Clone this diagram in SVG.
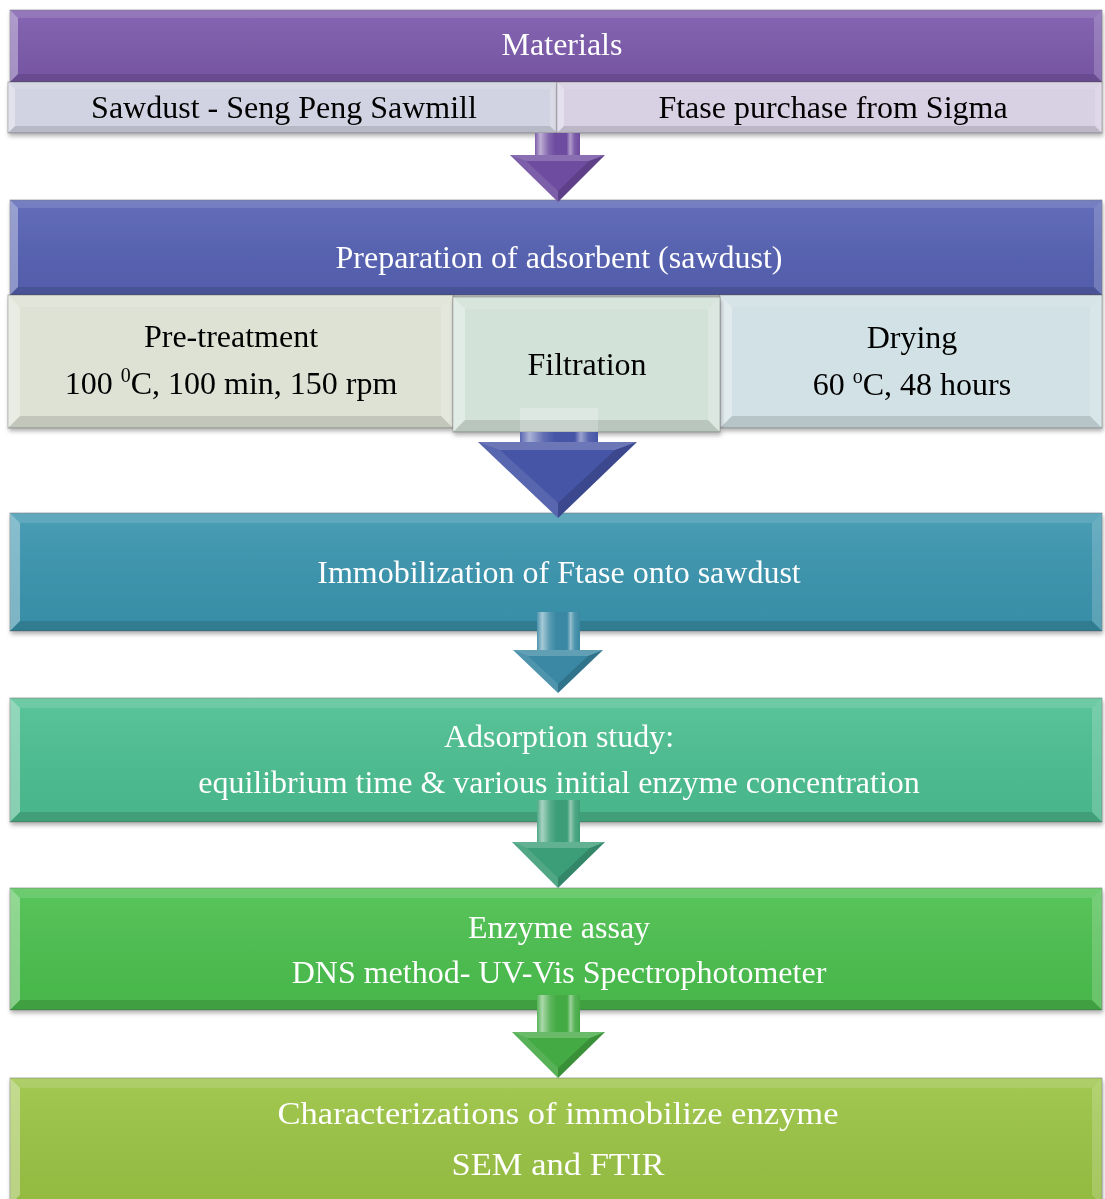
<svg xmlns="http://www.w3.org/2000/svg" width="1105" height="1199" viewBox="0 0 1105 1199">
<style>
.t{font-family:"Liberation Serif","Times New Roman",serif;font-size:32px;text-anchor:middle}
.w{fill:#ffffff}
.k{fill:#000000}
.box{stroke:#555;stroke-opacity:.45;stroke-width:1}
.bt{fill:#fff;fill-opacity:.12}
.bl{fill:#fff;fill-opacity:.35}
.bb{fill:#000;fill-opacity:.12}
.br{fill:#fff;fill-opacity:.18}
.ft{fill:#fff;fill-opacity:.2}
.fl{fill:#fff;fill-opacity:.1}
.fr{fill:#000;fill-opacity:.15}
.node{filter:url(#sh)}
</style>
<defs>
<filter id="sh" x="-5%" y="-10%" width="110%" height="130%">
<feDropShadow dx="1" dy="3" stdDeviation="2" flood-color="#000" flood-opacity=".3"/>
</filter>
<linearGradient id="gloss" x1="0" y1="0" x2="0" y2="1">
<stop offset="0" stop-color="#fff" stop-opacity=".08"/>
<stop offset="1" stop-color="#000" stop-opacity=".05"/>
</linearGradient>
<linearGradient id="shine" x1="0" y1="0" x2="1" y2="0">
<stop offset="0" stop-color="#fff" stop-opacity=".1"/>
<stop offset=".12" stop-color="#fff" stop-opacity=".55"/>
<stop offset=".3" stop-color="#fff" stop-opacity=".15"/>
<stop offset=".45" stop-color="#fff" stop-opacity="0"/>
<stop offset=".7" stop-color="#fff" stop-opacity="0"/>
<stop offset=".78" stop-color="#fff" stop-opacity=".45"/>
<stop offset=".88" stop-color="#fff" stop-opacity=".1"/>
<stop offset="1" stop-color="#fff" stop-opacity="0"/>
</linearGradient>
</defs>
<rect width="1105" height="1199" fill="#fff"/>

<g id="materials" class="node">
<rect class="box" x="10" y="10" width="1092" height="72" fill="#7C5AAC"/>
<rect x="10" y="10" width="1092" height="72" fill="url(#gloss)"/>
<polygon class="bt" points="10,10 1102,10 1094,18 18,18"/>
<polygon class="bl" points="10,10 18,18 18,74 10,82"/>
<polygon class="bb" points="10,82 18,74 1094,74 1102,82"/>
<polygon class="br" points="1102,10 1094,18 1094,74 1102,82"/>
<text class="t w" x="562" y="55">Materials</text>
</g>

<g id="sawdust-source" class="node">
<rect class="box" x="8" y="82" width="549" height="51" fill="#D2D3E2"/>
<polygon class="bt" points="8,82 557,82 550,89 15,89"/>
<polygon class="bl" points="8,82 15,89 15,126 8,133"/>
<polygon class="bb" points="8,133 15,126 550,126 557,133"/>
<polygon class="br" points="557,82 550,89 550,126 557,133"/>
<text class="t k" x="284" y="118">Sawdust - Seng Peng Sawmill</text>
</g>

<g id="ftase-source" class="node">
<rect class="box" x="557" y="82" width="545" height="51" fill="#D8D0E3"/>
<polygon class="bt" points="557,82 1102,82 1095,89 564,89"/>
<polygon class="bl" points="557,82 564,89 564,126 557,133"/>
<polygon class="bb" points="557,133 564,126 1095,126 1102,133"/>
<polygon class="br" points="1102,82 1095,89 1095,126 1102,133"/>
<text class="t k" x="833" y="118">Ftase purchase from Sigma</text>
</g>

<g id="preparation" class="node">
<rect class="box" x="10" y="200" width="1092" height="95" fill="#5662B4"/>
<rect x="10" y="200" width="1092" height="95" fill="url(#gloss)"/>
<polygon class="bt" points="10,200 1102,200 1094,208 18,208"/>
<polygon class="bl" points="10,200 18,208 18,287 10,295"/>
<polygon class="bb" points="10,295 18,287 1094,287 1102,295"/>
<polygon class="br" points="1102,200 1094,208 1094,287 1102,295"/>
<text class="t w" x="559" y="268">Preparation of adsorbent (sawdust)</text>
</g>

<g id="pretreatment" class="node">
<rect class="box" x="8" y="295" width="445" height="133" fill="#DDE2D5"/>
<polygon class="bt" points="8,295 453,295 441,307 20,307"/>
<polygon class="bl" points="8,295 20,307 20,416 8,428"/>
<polygon class="bb" points="8,428 20,416 441,416 453,428"/>
<polygon class="br" points="453,295 441,307 441,416 453,428"/>
<text class="t k" x="231" y="347">Pre-treatment</text>
<text class="t k" x="231" y="394">100 <tspan font-size="20" dy="-12">0</tspan><tspan dy="12">C, 100 min, 150 rpm</tspan></text>
</g>

<g id="drying" class="node">
<rect class="box" x="720" y="295" width="382" height="133" fill="#D1E1E5"/>
<polygon class="bt" points="720,295 1102,295 1090,307 732,307"/>
<polygon class="bl" points="720,295 732,307 732,416 720,428"/>
<polygon class="bb" points="720,428 732,416 1090,416 1102,428"/>
<polygon class="br" points="1102,295 1090,307 1090,416 1102,428"/>
<text class="t k" x="912" y="348">Drying</text>
<text class="t k" x="912" y="395">60 <tspan font-size="20" dy="-12">o</tspan><tspan dy="12">C, 48 hours</tspan></text>
</g>

<g id="filtration" class="node">
<rect class="box" x="453" y="297" width="267" height="135" fill="#D3E2D9"/>
<polygon class="bt" points="453,297 720,297 708,309 465,309"/>
<polygon class="bl" points="453,297 465,309 465,420 453,432"/>
<polygon class="bb" points="453,432 465,420 708,420 720,432"/>
<polygon class="br" points="720,297 708,309 708,420 720,432"/>
<text class="t k" x="587" y="375">Filtration</text>
</g>

<g id="immobilization" class="node">
<rect class="box" x="10" y="513" width="1092" height="118" fill="#3A95AF"/>
<rect x="10" y="513" width="1092" height="118" fill="url(#gloss)"/>
<polygon class="bt" points="10,513 1102,513 1092,523 20,523"/>
<polygon class="bl" points="10,513 20,523 20,621 10,631"/>
<polygon class="bb" points="10,631 20,621 1092,621 1102,631"/>
<polygon class="br" points="1102,513 1092,523 1092,621 1102,631"/>
<text class="t w" x="559" y="583">Immobilization of Ftase onto sawdust</text>
</g>

<g id="adsorption" class="node">
<rect class="box" x="10" y="698" width="1092" height="124" fill="#4CBF91"/>
<rect x="10" y="698" width="1092" height="124" fill="url(#gloss)"/>
<polygon class="bt" points="10,698 1102,698 1092,708 20,708"/>
<polygon class="bl" points="10,698 20,708 20,812 10,822"/>
<polygon class="bb" points="10,822 20,812 1092,812 1102,822"/>
<polygon class="br" points="1102,698 1092,708 1092,812 1102,822"/>
<text class="t w" x="559" y="747">Adsorption study:</text>
<text class="t w" x="559" y="793">equilibrium time &amp; various initial enzyme concentration</text>
</g>

<g id="enzyme-assay" class="node">
<rect class="box" x="10" y="888" width="1092" height="122" fill="#4BC04E"/>
<rect x="10" y="888" width="1092" height="122" fill="url(#gloss)"/>
<polygon class="bt" points="10,888 1102,888 1092,898 20,898"/>
<polygon class="bl" points="10,888 20,898 20,1000 10,1010"/>
<polygon class="bb" points="10,1010 20,1000 1092,1000 1102,1010"/>
<polygon class="br" points="1102,888 1092,898 1092,1000 1102,1010"/>
<text class="t w" x="559" y="938">Enzyme assay</text>
<text class="t w" x="559" y="983">DNS method- UV-Vis Spectrophotometer</text>
</g>

<g id="characterization" class="node">
<rect class="box" x="10" y="1078" width="1092" height="127" fill="#9BC444"/>
<rect x="10" y="1078" width="1092" height="127" fill="url(#gloss)"/>
<polygon class="bt" points="10,1078 1102,1078 1092,1088 20,1088"/>
<polygon class="bl" points="10,1078 20,1088 20,1195 10,1205"/>
<polygon class="br" points="1102,1078 1092,1088 1092,1195 1102,1205"/>
<text class="t w" x="558" y="1124" font-size="36" textLength="561" lengthAdjust="spacingAndGlyphs">Characterizations of immobilize enzyme</text>
<text class="t w" x="558" y="1175" font-size="36" textLength="213" lengthAdjust="spacingAndGlyphs">SEM and FTIR</text>
</g>

<g id="connectors">
<g id="arrow-1" fill="#6E4CA0">
<rect x="535" y="133" width="45" height="25"/>
<rect x="535" y="133" width="45" height="25" fill="url(#shine)"/>
<polygon points="510,155 605,155 558,202"/>
<polygon class="ft" points="510,155 605,155 589,161 526,161"/>
<polygon class="fl" points="510,155 526,161 558,191 558,202"/>
<polygon class="fr" points="605,155 589,161 558,191 558,202"/>
</g>
<g id="arrow-2" fill="#4655A6">
<rect x="520" y="408" width="78" height="24" fill="#fff" fill-opacity=".22"/>
<rect x="520" y="432" width="78" height="13"/>
<rect x="520" y="432" width="78" height="13" fill="url(#shine)"/>
<polygon points="478,442 637,442 558,518"/>
<polygon class="ft" points="478,442 637,442 615,450 500,450"/>
<polygon class="fl" points="478,442 500,450 558,503 558,518"/>
<polygon class="fr" points="637,442 615,450 558,503 558,518"/>
</g>
<g id="arrow-3" fill="#3A88A3">
<rect x="537" y="612" width="43" height="41"/>
<rect x="537" y="612" width="43" height="41" fill="url(#shine)"/>
<polygon points="513,650 603,650 558,693"/>
<polygon class="ft" points="513,650 603,650 588,656 528,656"/>
<polygon class="fl" points="513,650 528,656 558,684 558,693"/>
<polygon class="fr" points="603,650 588,656 558,684 558,693"/>
</g>
<g id="arrow-4" fill="#3C9E79">
<rect x="537" y="800" width="43" height="45"/>
<rect x="537" y="800" width="43" height="45" fill="url(#shine)"/>
<polygon points="512,842 605,842 558,888"/>
<polygon class="ft" points="512,842 605,842 590,848 527,848"/>
<polygon class="fl" points="512,842 527,848 558,878 558,888"/>
<polygon class="fr" points="605,842 590,848 558,878 558,888"/>
</g>
<g id="arrow-5" fill="#44AA44">
<rect x="537" y="995" width="43" height="40"/>
<rect x="537" y="995" width="43" height="40" fill="url(#shine)"/>
<polygon points="512,1032 605,1032 558,1078"/>
<polygon class="ft" points="512,1032 605,1032 590,1038 527,1038"/>
<polygon class="fl" points="512,1032 527,1038 558,1068 558,1078"/>
<polygon class="fr" points="605,1032 590,1038 558,1068 558,1078"/>
</g>
</g>
</svg>
